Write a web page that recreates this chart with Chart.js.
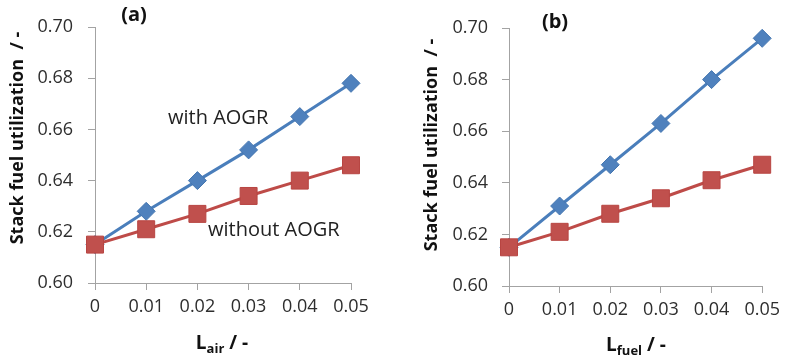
<!DOCTYPE html>
<html>
<head>
<meta charset="utf-8">
<script src="https://cdn.jsdelivr.net/npm/chart.js@4.4.1/dist/chart.umd.min.js"></script>
<style>
  html, body { margin: 0; padding: 0; background: #fff; }
  #wrap { position: relative; width: 786px; height: 364px; }
  canvas { position: absolute; top: 0; }
</style>
</head>
<body>
<div id="wrap">
  <canvas id="chartA" width="393" height="364" style="left:0"></canvas>
  <canvas id="chartB" width="393" height="364" style="left:393px"></canvas>
</div>
<script>
// loss fractions on the x axis
const lossValues = [0, 0.01, 0.02, 0.03, 0.04, 0.05]

// stack fuel utilization, panel (a): air-side loss
const airWithAogr = [0.615, 0.628, 0.640, 0.652, 0.665, 0.678]
const airWithoutAogr = [0.615, 0.621, 0.627, 0.634, 0.640, 0.646]

// panel (b): fuel-side loss
const fuelWithAogr = [0.615, 0.631, 0.647, 0.663, 0.680, 0.696]
const fuelWithoutAogr = [0.615, 0.621, 0.628, 0.634, 0.641, 0.647]

const yTitle = 'Stack fuel utilization  / -'

const blue = '#4a7ebb'
const red = '#be4b48'
const axisGray = '#a3a3a3'
const textGray = '#2e2e2e'
const tickFont = {family: 'Open Sans', size: 18}

function toPoints(values) {
  return lossValues.map((x, i) => ({x: x, y: values[i]}))
}

// free text drawn on top: panel tag, axis titles, series notes
const textPlugin = {
  id: 'panelText',
  afterDraw(chart, args, opts) {
    const c = chart.ctx
    c.save()
    c.fillStyle = '#111'
    c.textBaseline = 'middle'

    c.font = 'bold 20px "Open Sans"'
    c.textAlign = 'center'
    c.fillText(opts.tag, opts.tagX, opts.tagY)

    // rotated y title
    c.save()
    c.translate(opts.yTitleX, opts.yTitleY)
    c.rotate(-Math.PI / 2)
    c.font = 'bold 18px "Open Sans"'
    c.fillText(yTitle, 0, 0)
    c.restore()

    // x title with subscript
    c.textAlign = 'left'
    const big = 'bold 19px "Open Sans"'
    const small = 'bold 13px "Open Sans"'
    c.font = big
    const wL = c.measureText('L').width
    const tail = ' / -'
    const wTail = c.measureText(tail).width
    c.font = small
    const wSub = c.measureText(opts.sub).width
    let x = opts.xTitleX - (wL + wSub + wTail) / 2
    c.font = big
    c.fillText('L', x, opts.xTitleY)
    x += wL
    c.font = small
    c.fillText(opts.sub, x, opts.xTitleY + 5)
    x += wSub
    c.font = big
    c.fillText(tail, x, opts.xTitleY)

    c.font = '20px "Open Sans"'
    c.fillStyle = '#222'
    ;(opts.notes || []).forEach(n => c.fillText(n.text, n.x, n.y))
    c.restore()
  }
}

function makeChart(el, withData, withoutData, layout, text) {
  return new Chart(el, {
    type: 'scatter',
    data: {
      datasets: [
        {
          label: 'without AOGR',
          data: toPoints(withoutData),
          showLine: true,
          clip: false,
          borderColor: red,
          borderWidth: 3,
          backgroundColor: '#c0504d',
          pointStyle: 'rect',
          pointRadius: 12,
          pointBorderColor: '#b84542',
          pointBorderWidth: 1
        },
        {
          label: 'with AOGR',
          data: toPoints(withData),
          showLine: true,
          clip: false,
          borderColor: blue,
          borderWidth: 3,
          backgroundColor: '#4f81bd',
          pointStyle: 'rectRot',
          pointRadius: 9,
          pointBorderColor: '#4576b0',
          pointBorderWidth: 1
        }
      ]
    },
    options: {
      responsive: false,
      animation: false,
      layout: {padding: {top: layout.top, right: layout.right, left: 0, bottom: 0}},
      plugins: {
        legend: {display: false},
        tooltip: {enabled: false},
        panelText: text
      },
      scales: {
        x: {
          type: 'linear',
          min: 0,
          max: 0.05,
          ticks: {
            stepSize: 0.01,
            color: textGray,
            font: tickFont,
            padding: 6,
            maxRotation: 0,
            callback: v => (Math.abs(v) < 1e-9 ? '0' : v.toFixed(2))
          },
          grid: {drawOnChartArea: false, color: axisGray, tickLength: 7},
          border: {color: axisGray, width: 1},
          afterFit: s => { s.height = layout.xHeight }
        },
        y: {
          min: 0.6,
          max: 0.7,
          ticks: {
            stepSize: 0.02,
            color: textGray,
            font: tickFont,
            padding: layout.yPad,
            callback: v => v.toFixed(2)
          },
          grid: {drawOnChartArea: false, color: axisGray, tickLength: 7},
          border: {color: axisGray, width: 1},
          afterFit: s => { s.width = layout.yWidth }
        }
      }
    },
    plugins: [textPlugin]
  })
}

makeChart(document.getElementById('chartA'), airWithAogr, airWithoutAogr,
  {top: 27, right: 42, xHeight: 81, yWidth: 95, yPad: 15},
  {
    tag: '(a)', tagX: 134, tagY: 15,
    yTitleX: 18, yTitleY: 138,
    sub: 'air', xTitleX: 222, xTitleY: 344,
    notes: [
      {text: 'with AOGR', x: 168, y: 118},
      {text: 'without AOGR', x: 208, y: 230}
    ]
  })

makeChart(document.getElementById('chartB'), fuelWithAogr, fuelWithoutAogr,
  {top: 28, right: 23, xHeight: 78, yWidth: 116, yPad: 14},
  {
    tag: '(b)', tagX: 162, tagY: 22,
    yTitleX: 39, yTitleY: 145,
    sub: 'fuel', xTitleX: 243, xTitleY: 346,
    notes: []
  })
</script>
</body>
</html>
